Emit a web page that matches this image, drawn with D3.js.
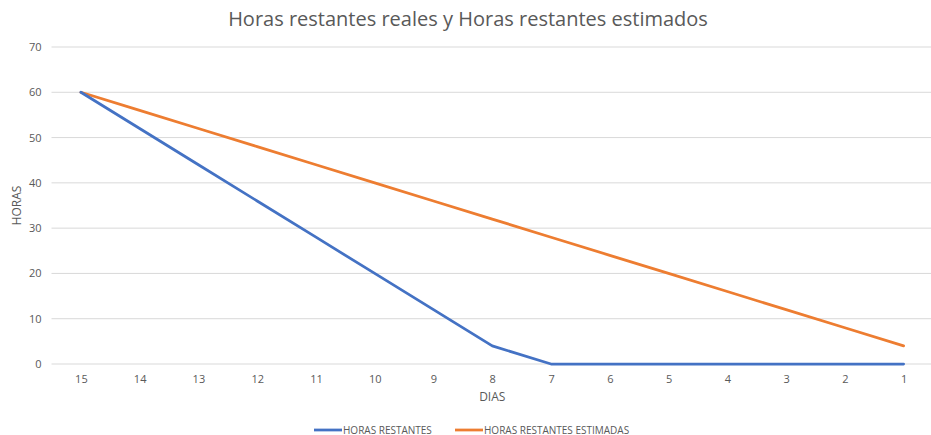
<!DOCTYPE html>
<html>
<head>
<meta charset="utf-8">
<script src="https://cdn.jsdelivr.net/npm/d3@7"></script>
<style>
  html, body { margin: 0; padding: 0; background: #fff; }
  svg { display: block; }
  text { font-family: "Open Sans", "Liberation Sans", sans-serif; fill: #595959; }
</style>
</head>
<body>
<svg id="chart" width="931" height="435"></svg>
<script>
// Days remaining in the sprint (x axis, descending)
const dias = ["15", "14", "13", "12", "11", "10", "9", "8", "7", "6", "5", "4", "3", "2", "1"];
// Actual remaining hours per day
const horasRestantes = [60, 52, 44, 36, 28, 20, 12, 4, 0, 0, 0, 0, 0, 0, 0];
// Estimated (ideal) remaining hours per day
const horasEstimadas = [60, 56, 52, 48, 44, 40, 36, 32, 28, 24, 20, 16, 12, 8, 4];
const yTicks = [0, 10, 20, 30, 40, 50, 60, 70];

const svg = d3.select("#chart");
const W = 931, H = 435;
const margin = { left: 51.5, top: 47, bottom: 71 };
const plotRight = 933; // category band extends just past the canvas edge

const x = d3.scalePoint().domain(dias).range([margin.left, plotRight]).padding(0.5);
const y = d3.scaleLinear().domain([0, 70]).range([H - margin.bottom, margin.top]);

// Horizontal gridlines
svg.append("g")
  .selectAll("line")
  .data(yTicks)
  .join("line")
  .attr("x1", margin.left).attr("x2", W)
  .attr("y1", d => y(d)).attr("y2", d => y(d))
  .attr("stroke", "#d9d9d9").attr("stroke-width", 1);

// Y axis labels
const yAxis = svg.append("g")
  .attr("transform", `translate(${margin.left - 10},0)`)
  .call(d3.axisLeft(y).tickValues(yTicks).tickSize(0).tickPadding(0));
yAxis.select(".domain").remove();
yAxis.selectAll("text").attr("font-size", 11).style("fill", "#595959")
  .style("font-family", '"Open Sans", "Liberation Sans", sans-serif');

// X axis labels
const xAxis = svg.append("g")
  .attr("transform", `translate(0,${y(0) + 7})`)
  .call(d3.axisBottom(x).tickSize(0).tickPadding(4));
xAxis.select(".domain").remove();
xAxis.selectAll("text").attr("font-size", 11).style("fill", "#595959")
  .style("font-family", '"Open Sans", "Liberation Sans", sans-serif');

// Axis titles
svg.append("text")
  .attr("x", x("8")).attr("y", 401)
  .attr("text-anchor", "middle").attr("font-size", 12)
  .text("DIAS");
svg.append("text")
  .attr("transform", `translate(21,${y(35)}) rotate(-90)`)
  .attr("text-anchor", "middle").attr("font-size", 12)
  .text("HORAS");

// Chart title
svg.append("text")
  .attr("x", 468).attr("y", 26)
  .attr("text-anchor", "middle").attr("font-size", 20)
  .text("Horas restantes reales y Horas restantes estimados");

const line = d3.line().x((d, i) => x(dias[i])).y(d => y(d));

const series = [
  { name: "HORAS RESTANTES", values: horasRestantes, color: "#4472c4" },
  { name: "HORAS RESTANTES ESTIMADAS", values: horasEstimadas, color: "#ed7d31" }
];

// Draw estimated first so the actual line sits on top
[series[1], series[0]].forEach(s => {
  svg.append("path")
    .datum(s.values)
    .attr("d", line)
    .attr("fill", "none")
    .attr("stroke", s.color)
    .attr("stroke-width", 2.75)
    .attr("stroke-linejoin", "round")
    .attr("stroke-linecap", "round");
});

// Legend
const legendX = [314, 455];
series.forEach((s, i) => {
  const g = svg.append("g").attr("transform", `translate(${legendX[i]},430)`);
  g.append("line").attr("x1", 0).attr("x2", 28).attr("y1", 0).attr("y2", 0)
    .attr("stroke", s.color).attr("stroke-width", 2.75);
  g.append("text").attr("x", 29).attr("y", 3.5).attr("font-size", 10).text(s.name);
});
</script>
</body>
</html>
